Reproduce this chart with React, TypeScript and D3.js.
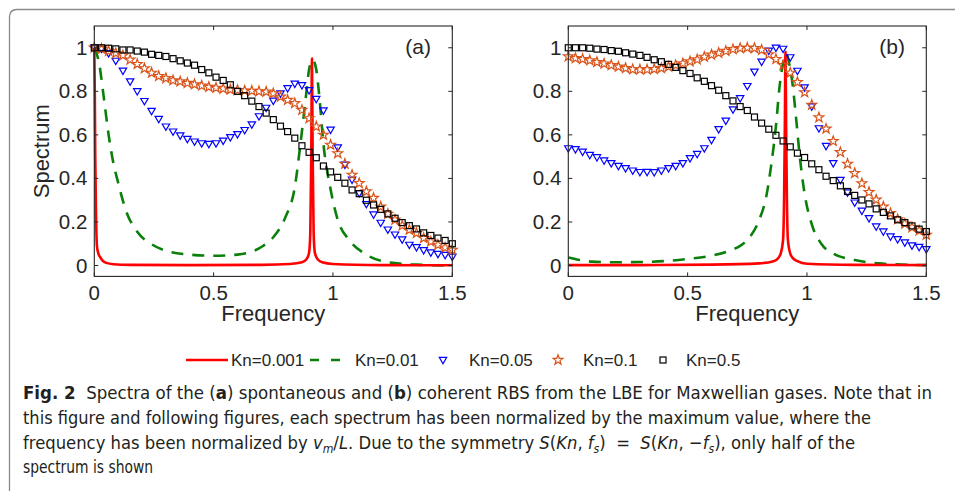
import React from "react";
import * as d3 from "d3";

// ---------- data ----------
const markerX = [0, 0.03, 0.06, 0.09, 0.12, 0.15, 0.18, 0.21, 0.24, 0.27, 0.3, 0.33, 0.36, 0.39, 0.42, 0.45, 0.48, 0.51, 0.54, 0.57, 0.6, 0.63, 0.66, 0.69, 0.72, 0.75, 0.78, 0.81, 0.84, 0.87, 0.9, 0.93, 0.96, 0.99, 1.02, 1.05, 1.08, 1.11, 1.14, 1.17, 1.2, 1.23, 1.26, 1.29, 1.32, 1.35, 1.38, 1.41, 1.44, 1.47, 1.5];

// panel (a): spontaneous
const redAX = [0, 0.002, 0.004, 0.007, 0.011, 0.017, 0.025, 0.035, 0.05, 0.08, 0.15, 0.4, 0.7, 0.82, 0.87, 0.89, 0.9, 0.905, 0.909, 0.912, 0.915, 0.919, 0.924, 0.935, 0.955, 1.0, 1.2, 1.5];
const redAY = [1.0, 0.8, 0.5, 0.25, 0.09, 0.055, 0.038, 0.022, 0.012, 0.006, 0.003, 0.002, 0.003, 0.007, 0.015, 0.03, 0.06, 0.15, 0.5, 0.95, 0.5, 0.15, 0.06, 0.03, 0.015, 0.007, 0.002, 0.001];
const greenAX = [0, 0.02, 0.04, 0.06, 0.08, 0.1, 0.13, 0.18, 0.24, 0.3, 0.4, 0.5, 0.6, 0.7, 0.75, 0.8, 0.84, 0.865, 0.885, 0.9, 0.915, 0.93, 0.945, 0.96, 0.99, 1.02, 1.07, 1.14, 1.25, 1.35, 1.5];
const greenAY = [1.0, 0.93, 0.77, 0.6, 0.47, 0.38, 0.26, 0.155, 0.098, 0.068, 0.05, 0.045, 0.05, 0.085, 0.13, 0.22, 0.36, 0.57, 0.76, 0.9, 0.945, 0.9, 0.75, 0.56, 0.35, 0.21, 0.115, 0.05, 0.012, 0.004, 0.0];
const triA = [1.0, 0.995, 0.975, 0.94, 0.895, 0.845, 0.8, 0.755, 0.71, 0.673, 0.638, 0.615, 0.597, 0.581, 0.569, 0.561, 0.558, 0.561, 0.573, 0.589, 0.603, 0.622, 0.648, 0.685, 0.724, 0.757, 0.79, 0.814, 0.835, 0.828, 0.805, 0.765, 0.712, 0.624, 0.542, 0.463, 0.394, 0.332, 0.282, 0.234, 0.196, 0.165, 0.142, 0.12, 0.095, 0.084, 0.07, 0.06, 0.053, 0.048, 0.04];
const starA = [1.0, 0.995, 0.985, 0.975, 0.965, 0.945, 0.925, 0.905, 0.885, 0.87, 0.86, 0.85, 0.845, 0.838, 0.832, 0.826, 0.82, 0.816, 0.812, 0.808, 0.805, 0.803, 0.802, 0.8, 0.798, 0.79, 0.775, 0.76, 0.745, 0.714, 0.676, 0.638, 0.6, 0.554, 0.515, 0.467, 0.416, 0.378, 0.34, 0.31, 0.27, 0.237, 0.21, 0.183, 0.164, 0.149, 0.126, 0.11, 0.095, 0.082, 0.072];
const sqA = [1.0, 1.0, 0.998, 0.995, 0.99, 0.99, 0.985, 0.98, 0.97, 0.965, 0.96, 0.95, 0.94, 0.93, 0.92, 0.9, 0.885, 0.865, 0.85, 0.83, 0.8, 0.78, 0.755, 0.73, 0.7, 0.67, 0.64, 0.615, 0.585, 0.55, 0.52, 0.495, 0.457, 0.43, 0.405, 0.378, 0.347, 0.33, 0.3, 0.278, 0.258, 0.237, 0.217, 0.197, 0.183, 0.168, 0.15, 0.138, 0.126, 0.115, 0.1];

// panel (b): coherent
const redBX = [0, 0.3, 0.6, 0.8, 0.86, 0.88, 0.89, 0.9, 0.904, 0.907, 0.91, 0.913, 0.916, 0.92, 0.93, 0.94, 0.96, 1.0, 1.2, 1.5];
const redBY = [0.002, 0.002, 0.004, 0.01, 0.02, 0.035, 0.055, 0.12, 0.3, 0.6, 0.98, 0.6, 0.3, 0.12, 0.055, 0.035, 0.02, 0.008, 0.003, 0.002];
const greenBX = [0, 0.05, 0.1, 0.2, 0.3, 0.4, 0.5, 0.6, 0.68, 0.72, 0.76, 0.8, 0.83, 0.85, 0.87, 0.885, 0.9, 0.912, 0.925, 0.94, 0.955, 0.97, 0.99, 1.02, 1.06, 1.11, 1.2, 1.3, 1.4, 1.5];
const greenBY = [0.037, 0.025, 0.018, 0.015, 0.016, 0.02, 0.03, 0.045, 0.07, 0.09, 0.13, 0.21, 0.32, 0.46, 0.64, 0.82, 0.93, 0.975, 0.93, 0.83, 0.67, 0.5, 0.33, 0.19, 0.1, 0.055, 0.025, 0.01, 0.004, 0.002];
const triB = [0.538, 0.534, 0.523, 0.508, 0.497, 0.482, 0.47, 0.457, 0.447, 0.436, 0.429, 0.43, 0.428, 0.436, 0.447, 0.457, 0.47, 0.493, 0.512, 0.538, 0.577, 0.626, 0.665, 0.717, 0.768, 0.824, 0.89, 0.936, 0.986, 1.0, 0.995, 0.956, 0.894, 0.818, 0.73, 0.63, 0.549, 0.47, 0.393, 0.335, 0.289, 0.252, 0.217, 0.179, 0.156, 0.133, 0.121, 0.106, 0.092, 0.085, 0.075];
const starB = [0.96, 0.952, 0.948, 0.942, 0.934, 0.927, 0.92, 0.913, 0.906, 0.901, 0.9, 0.9, 0.902, 0.906, 0.913, 0.92, 0.928, 0.937, 0.946, 0.958, 0.968, 0.976, 0.985, 0.993, 0.998, 1.0, 0.998, 0.99, 0.97, 0.948, 0.92, 0.885, 0.842, 0.795, 0.738, 0.68, 0.628, 0.571, 0.52, 0.467, 0.424, 0.377, 0.337, 0.302, 0.27, 0.24, 0.212, 0.192, 0.175, 0.16, 0.141];
const sqB = [1.0, 1.0, 1.0, 0.998, 0.994, 0.992, 0.987, 0.984, 0.977, 0.971, 0.965, 0.956, 0.945, 0.936, 0.924, 0.91, 0.895, 0.882, 0.862, 0.846, 0.826, 0.805, 0.78, 0.756, 0.73, 0.712, 0.682, 0.654, 0.626, 0.598, 0.572, 0.545, 0.516, 0.496, 0.467, 0.44, 0.41, 0.39, 0.366, 0.34, 0.322, 0.301, 0.283, 0.26, 0.244, 0.228, 0.21, 0.197, 0.182, 0.167, 0.156];

const seriesLabels = ["Kn=0.001", "Kn=0.01", "Kn=0.05", "Kn=0.1", "Kn=0.5"];
const xTicks = [0, 0.5, 1, 1.5];
const xTickLabels = ["0", "0.5", "1", "1.5"];
const yTicks = [0, 0.2, 0.4, 0.6, 0.8, 1];
const yTickLabels = ["0", "0.2", "0.4", "0.6", "0.8", "1"];
const panelLabels = ["(a)", "(b)"];
const xTitle = "Frequency";
const yTitle = "Spectrum";

// ---------- style ----------
const AX = "#262626";
const RED = "#ff0000";
const GREEN = "#0a800a";
const BLUE = "#0000ff";
const ORANGE = "#d95319";
const BLACK = "#000000";
const FONT = "'Liberation Sans', Arial, Helvetica, sans-serif";
const CAPFONT = "'DejaVu Sans Condensed', 'Open Sans', sans-serif";

function starPath(r: number) {
  const pts: string[] = [];
  for (let i = 0; i < 10; i++) {
    const rad = i % 2 === 0 ? r : r * 0.4;
    const a = -Math.PI / 2 + (i * Math.PI) / 5;
    pts.push(`${(rad * Math.cos(a)).toFixed(2)},${(rad * Math.sin(a)).toFixed(2)}`);
  }
  return "M" + pts.join("L") + "Z";
}
const STAR = starPath(5.2);
const TRI = "M-3.7,-2.6L3.7,-2.6L0,3.8Z";

type PanelProps = {
  left: number;
  label: string;
  redX: number[]; redY: number[];
  greenX: number[]; greenY: number[];
  tri: number[]; star: number[]; sq: number[];
  showYTitle: boolean;
};

const TOP = 26, BOTTOM = 276.4, PW = 358;

function Panel(p: PanelProps) {
  const x = d3.scaleLinear().domain([0, 1.5]).range([p.left, p.left + PW]);
  const y = d3.scaleLinear().domain([-0.05, 1.1]).range([BOTTOM, TOP]);
  const line = d3.line<[number, number]>().x(d => x(d[0])).y(d => y(d[1])).curve(d3.curveMonotoneX);
  const redPts = p.redX.map((v, i) => [v, p.redY[i]] as [number, number]);
  const greenPts = p.greenX.map((v, i) => [v, p.greenY[i]] as [number, number]);
  const x0 = x(0), x1 = x(1.5);
  return (
    <g>
      <path d={line(greenPts) || ""} fill="none" stroke={GREEN} strokeWidth={2.6} strokeDasharray="12,9" />
      <path d={line(redPts) || ""} fill="none" stroke={RED} strokeWidth={2.6} strokeLinejoin="round" />
      {markerX.map((v, i) => (
        <path key={"t" + i} d={TRI} transform={`translate(${x(v)},${y(p.tri[i])})`} fill="none" stroke={BLUE} strokeWidth={1.2} />
      ))}
      {markerX.map((v, i) => (
        <path key={"s" + i} d={STAR} transform={`translate(${x(v)},${y(p.star[i])})`} fill="none" stroke={ORANGE} strokeWidth={1.2} strokeLinejoin="miter" />
      ))}
      {markerX.map((v, i) => (
        <rect key={"q" + i} x={x(v) - 3} y={y(p.sq[i]) - 3} width={6} height={6} fill="none" stroke={BLACK} strokeWidth={1.2} />
      ))}
      <rect x={x0} y={TOP} width={x1 - x0} height={BOTTOM - TOP} fill="none" stroke={AX} strokeWidth={1.1} />
      {xTicks.map((t, i) => (
        <g key={"xt" + i}>
          <line x1={x(t)} x2={x(t)} y1={BOTTOM} y2={BOTTOM - 4} stroke={AX} strokeWidth={1} />
          <line x1={x(t)} x2={x(t)} y1={TOP} y2={TOP + 4} stroke={AX} strokeWidth={1} />
          <text x={x(t)} y={299.5} textAnchor="middle" fontFamily={FONT} fontSize={20.5} fill={AX}>{xTickLabels[i]}</text>
        </g>
      ))}
      {yTicks.map((t, i) => (
        <g key={"yt" + i}>
          <line x1={x0} x2={x0 + 4} y1={y(t)} y2={y(t)} stroke={AX} strokeWidth={1} />
          <line x1={x1} x2={x1 - 4} y1={y(t)} y2={y(t)} stroke={AX} strokeWidth={1} />
          <text x={x0 - 7} y={y(t) + 7} textAnchor="end" fontFamily={FONT} fontSize={20.5} fill={AX}>{yTickLabels[i]}</text>
        </g>
      ))}
      <text x={x1 - 47} y={54} fontFamily={FONT} fontSize={21} fill={AX}>{p.label}</text>
      <text x={(x0 + x1) / 2} y={321} textAnchor="middle" fontFamily={FONT} fontSize={22} fill={AX}>{xTitle}</text>
      {p.showYTitle && (
        <text transform={`translate(49,${(TOP + BOTTOM) / 2}) rotate(-90)`} textAnchor="middle" fontFamily={FONT} fontSize={22} fill={AX}>{yTitle}</text>
      )}
    </g>
  );
}

function Legend() {
  const ly = 360;
  const ty = 366;
  return (
    <g fontFamily={FONT} fontSize={17} fill={AX}>
      <line x1={186} x2={228} y1={ly} y2={ly} stroke={RED} strokeWidth={2.6} />
      <text x={231} y={ty}>{seriesLabels[0]}</text>
      <line x1={310} x2={342} y1={ly} y2={ly} stroke={GREEN} strokeWidth={2.6} strokeDasharray="9,12" />
      <text x={355} y={ty}>{seriesLabels[1]}</text>
      <path d={TRI} transform={`translate(443,${ly})`} fill="none" stroke={BLUE} strokeWidth={1.2} />
      <text x={469} y={ty}>{seriesLabels[2]}</text>
      <path d={STAR} transform={`translate(558,${ly})`} fill="none" stroke={ORANGE} strokeWidth={1.2} />
      <text x={583} y={ty}>{seriesLabels[3]}</text>
      <rect x={660} y={ly - 3} width={6} height={6} fill="none" stroke={BLACK} strokeWidth={1.2} />
      <text x={686} y={ty}>{seriesLabels[4]}</text>
    </g>
  );
}

function Caption() {
  const it = { fontStyle: "italic" as const };
  const common = { fontFamily: CAPFONT, fontSize: 18, fill: "#231f20", style: { whiteSpace: "pre" as const }, lengthAdjust: "spacingAndGlyphs" };
  return (
    <g>
      <text x={23} y={399} textLength={909} {...common}>
        <tspan fontWeight="bold">Fig. 2</tspan>
        <tspan>{"  Spectra of the ("}</tspan>
        <tspan fontWeight="bold">a</tspan>
        <tspan>{") spontaneous and ("}</tspan>
        <tspan fontWeight="bold">b</tspan>
        <tspan>{") coherent RBS from the LBE for Maxwellian gases. Note that in"}</tspan>
      </text>
      <text x={23} y={424} textLength={848} {...common}>
        {"this figure and following figures, each spectrum has been normalized by the maximum value, where the"}
      </text>
      <text x={23} y={449} textLength={832} {...common}>
        <tspan>{"frequency has been normalized by "}</tspan>
        <tspan {...it}>v</tspan>
        <tspan {...it} fontSize={12} dy={4}>m</tspan>
        <tspan dy={-4}>/</tspan>
        <tspan {...it}>L</tspan>
        <tspan>{". Due to the symmetry "}</tspan>
        <tspan {...it}>S</tspan>
        <tspan>(</tspan>
        <tspan {...it}>Kn</tspan>
        <tspan>{", "}</tspan>
        <tspan {...it}>f</tspan>
        <tspan {...it} fontSize={12} dy={4}>s</tspan>
        <tspan dy={-4}>{")  =  "}</tspan>
        <tspan {...it}>S</tspan>
        <tspan>(</tspan>
        <tspan {...it}>Kn</tspan>
        <tspan>{", −"}</tspan>
        <tspan {...it}>f</tspan>
        <tspan {...it} fontSize={12} dy={4}>s</tspan>
        <tspan dy={-4}>{"), only half of the"}</tspan>
      </text>
      <text x={23} y={473} textLength={130} {...common}>{"spectrum is shown"}</text>
    </g>
  );
}

export default function App() {
  return (
    <svg width={955} height={491} style={{ position: "absolute", left: 0, top: 0, background: "#fff" }}>
      <rect x={0} y={0} width={955} height={491} fill="#fff" />
      <path d="M9.5,491 L9.5,17 Q9.5,9.5 17,9.5 L955,9.5" fill="none" stroke="#8a8a8a" strokeWidth={1.3} />
      <Panel left={94.3} label={panelLabels[0]} redX={redAX} redY={redAY} greenX={greenAX} greenY={greenAY} tri={triA} star={starA} sq={sqA} showYTitle={true} />
      <Panel left={568.3} label={panelLabels[1]} redX={redBX} redY={redBY} greenX={greenBX} greenY={greenBY} tri={triB} star={starB} sq={sqB} showYTitle={false} />
      <Legend />
      <Caption />
    </svg>
  );
}
